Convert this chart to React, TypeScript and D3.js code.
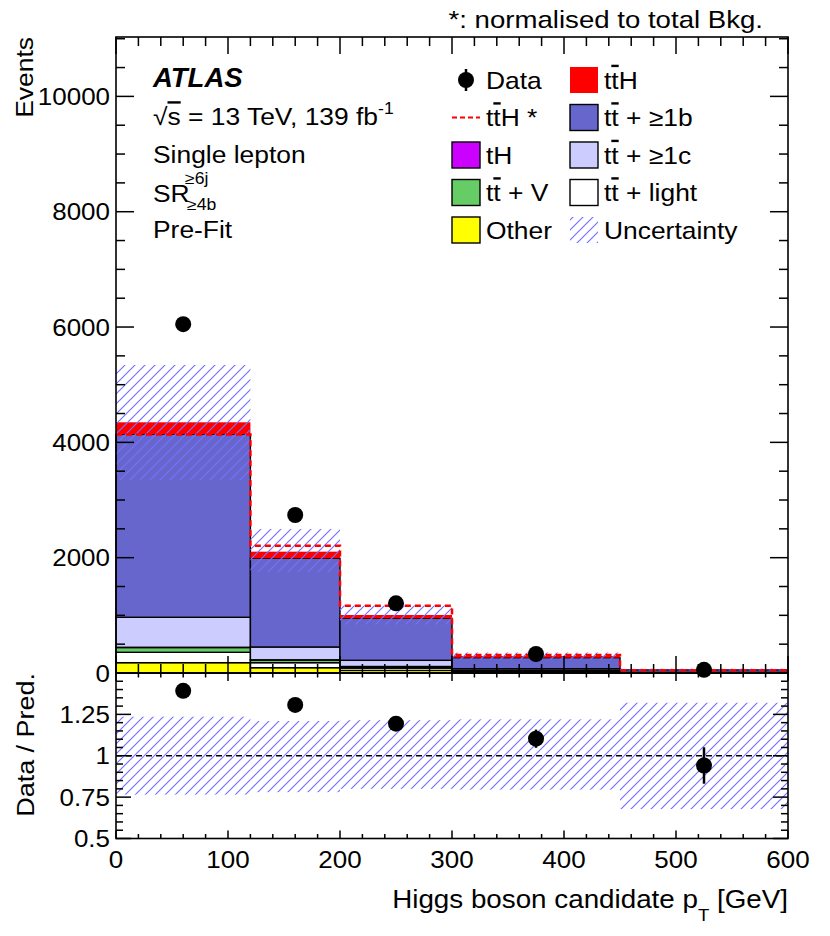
import React from 'react';
import * as d3 from 'd3';

// ---------- data ----------
const binEdges = [0, 120, 200, 300, 450, 600];
const dataVals = [6050, 2740, 1209, 330, 55];
const dataErr = [78, 52, 35, 18, 7];
const otherVals = [179, 92, 45, 15, 3];
const ttLightVals = [180, 87, 40, 15, 2];
const ttVVals = [83, 46, 25, 12, 2];
const tHVals = [4, 4, 3, 2, 0.5];
const ttCVals = [520, 222, 107, 30, 4];
const ttBVals = [3174, 1538, 728, 192, 41.5];
const ttHVals = [208, 115, 58, 29, 5];
const ttHNormVals = [4135, 2208, 1167, 312, 48];
const uncHigh = [5342, 2497, 1170, 355, 75];
const uncLow = [3347, 1746, 840, 235, 42];
const ratioVals = [1.392, 1.307, 1.194, 1.103, 0.941];
const ratioErr = [0.018, 0.025, 0.035, 0.055, 0.11];
const ratioUncHigh = [1.236, 1.21, 1.215, 1.22, 1.32];
const ratioUncLow = [0.765, 0.78, 0.8, 0.795, 0.678];
const yTickLabels = [0, 2000, 4000, 6000, 8000, 10000];
const xTickLabels = [0, 100, 200, 300, 400, 500, 600];
const ratioTickLabels = ['0.5', '0.75', '1', '1.25'];

const stackKeys = ['other', 'ttlight', 'ttV', 'tH', 'ttc', 'ttb', 'ttH'];
const seriesArrays: Record<string, number[]> = {
  other: otherVals, ttlight: ttLightVals, ttV: ttVVals, tH: tHVals,
  ttc: ttCVals, ttb: ttBVals, ttH: ttHVals,
};
const colors: Record<string, string> = {
  other: '#ffff00', ttlight: '#ffffff', ttV: '#66cc66', tH: '#cc00ff',
  ttc: '#ccccff', ttb: '#6666cc', ttH: '#ff0000',
};

const FONT = "'Liberation Sans', Arial, Helvetica, sans-serif";
const L = 116, R = 788, TOP = 37, MB = 673, RB = 838.5;

function Txt(p: any) {
  const { x, y, size = 24, sx = 1.1, anchor = 'start', rot = 0, weight, italic, children } = p;
  return (
    <text
      transform={`translate(${x},${y})${rot ? ` rotate(${rot})` : ''} scale(${sx},1)`}
      fontSize={size}
      textAnchor={anchor}
      fontFamily={FONT}
      fontWeight={weight}
      fontStyle={italic ? 'italic' : undefined}
      fill="#000"
    >
      {children}
    </text>
  );
}

const Bar = ({ c }: { c: string }) => <tspan textDecoration="overline">{c}</tspan>;

export default function App() {
  const x = d3.scaleLinear().domain([0, 600]).range([L, R]);
  const y = d3.scaleLinear().domain([0, 11030]).range([MB, TOP]);
  const yr = d3.scaleLinear().domain([0.5, 1.5]).range([RB, MB]);

  const nb = binEdges.length - 1;
  const rows = d3.range(nb).map((i) => {
    const r: any = {};
    stackKeys.forEach((k) => (r[k] = seriesArrays[k][i]));
    return r;
  });
  const stacked = d3.stack().keys(stackKeys)(rows);

  const stepPath = (vals: number[], sc: any) => {
    let d = '';
    vals.forEach((v, i) => {
      const x0 = x(binEdges[i]), x1 = x(binEdges[i + 1]), yy = sc(v);
      d += i === 0 ? `M${x0},${yy}H${x1}` : `V${yy}H${x1}`;
    });
    return d;
  };

  const mid = (i: number) => (binEdges[i] + binEdges[i + 1]) / 2;

  // ticks
  const xMajor = d3.range(0, 601, 100);
  const xMinor = d3.range(0, 601, 20).filter((v) => v % 100 !== 0);
  const yMajor = d3.range(0, 11001, 2000);
  const yMinor = d3.range(0, 11030, 500).filter((v) => v % 2000 !== 0);
  const rMajor = [0.5, 0.75, 1, 1.25, 1.5];
  const rMinor = d3.range(0, 21).map((i) => 0.5 + i * 0.05).filter((v) => Math.abs((v - 0.5) / 0.25 - Math.round((v - 0.5) / 0.25)) > 1e-6);

  const tk = { stroke: '#000', strokeWidth: 1.5 };

  const legendRows = [80, 117.5, 155, 192.5, 230];
  const c1Box = 452, c1Text = 486, c2Box = 570, c2Text = 604, bw = 28, bh = 26;
  const lsize = 24;

  return (
    <div style={{ position: 'absolute', left: 0, top: 0 }}>
      <svg width={830} height={936} style={{ display: 'block', background: '#fff' }}>
        <defs>
          <pattern id="hatch" patternUnits="userSpaceOnUse" width="10" height="10">
            <path d="M-2,2 L2,-2 M0,10 L10,0 M8,12 L12,8" stroke="#7272ff" strokeWidth="1.2" />
          </pattern>
        </defs>

        {/* stacked histogram */}
        {stacked.map((s: any) =>
          s.map((d: any, i: number) => {
            const k = s.key;
            const h = y(d[0]) - y(d[1]);
            return (
              <rect
                key={k + i}
                x={x(binEdges[i])}
                y={y(d[1])}
                width={x(binEdges[i + 1]) - x(binEdges[i])}
                height={Math.max(h, 0)}
                fill={colors[k]}
                stroke={k === 'ttH' ? 'none' : '#000'}
                strokeWidth={1.4}
              />
            );
          })
        )}

        {/* uncertainty band main */}
        {d3.range(nb).map((i) => (
          <rect key={'u' + i} x={x(binEdges[i])} y={y(uncHigh[i])}
            width={x(binEdges[i + 1]) - x(binEdges[i])} height={y(uncLow[i]) - y(uncHigh[i])}
            fill="url(#hatch)" />
        ))}

        {/* ttH normalised */}
        <path d={stepPath(ttHNormVals, y)} fill="none" stroke="#ff0000" strokeWidth={2.5} strokeDasharray="6,4" />

        {/* data main */}
        {dataVals.map((v, i) => (
          <g key={'d' + i}>
            <line x1={x(mid(i))} x2={x(mid(i))} y1={y(v - dataErr[i])} y2={y(v + dataErr[i])} stroke="#000" strokeWidth={2.5} />
            <circle cx={x(mid(i))} cy={y(v)} r={8} fill="#000" />
          </g>
        ))}

        {/* ratio band */}
        {d3.range(nb).map((i) => (
          <rect key={'ru' + i} x={x(binEdges[i])} y={yr(ratioUncHigh[i])}
            width={x(binEdges[i + 1]) - x(binEdges[i])} height={yr(ratioUncLow[i]) - yr(ratioUncHigh[i])}
            fill="url(#hatch)" />
        ))}
        <line x1={L} x2={R} y1={yr(1)} y2={yr(1)} stroke="#000" strokeWidth={1.3} strokeDasharray="6,4" />
        {ratioVals.map((v, i) => (
          <g key={'r' + i}>
            <line x1={x(mid(i))} x2={x(mid(i))} y1={yr(v - ratioErr[i])} y2={yr(v + ratioErr[i])} stroke="#000" strokeWidth={2.5} />
            <circle cx={x(mid(i))} cy={yr(v)} r={8} fill="#000" />
          </g>
        ))}

        {/* frames */}
        <rect x={L} y={TOP} width={R - L} height={MB - TOP} fill="none" stroke="#000" strokeWidth={1.6} />
        <rect x={L} y={MB} width={R - L} height={RB - MB} fill="none" stroke="#000" strokeWidth={1.6} />

        {/* main ticks */}
        {xMajor.map((v) => (
          <g key={'xm' + v}>
            <line x1={x(v)} x2={x(v)} y1={MB} y2={MB - 17} {...tk} />
            <line x1={x(v)} x2={x(v)} y1={TOP} y2={TOP + 17} {...tk} />
            <line x1={x(v)} x2={x(v)} y1={MB} y2={MB + 8} {...tk} />
            <line x1={x(v)} x2={x(v)} y1={RB} y2={RB - 8} {...tk} />
          </g>
        ))}
        {xMinor.map((v) => (
          <g key={'xn' + v}>
            <line x1={x(v)} x2={x(v)} y1={MB} y2={MB - 9} {...tk} />
            <line x1={x(v)} x2={x(v)} y1={TOP} y2={TOP + 9} {...tk} />
            <line x1={x(v)} x2={x(v)} y1={MB} y2={MB + 4.5} {...tk} />
            <line x1={x(v)} x2={x(v)} y1={RB} y2={RB - 4.5} {...tk} />
          </g>
        ))}
        {yMajor.map((v) => (
          <g key={'ym' + v}>
            <line x1={L} x2={L + 18} y1={y(v)} y2={y(v)} {...tk} />
            <line x1={R} x2={R - 18} y1={y(v)} y2={y(v)} {...tk} />
          </g>
        ))}
        {yMinor.map((v) => (
          <g key={'yn' + v}>
            <line x1={L} x2={L + 9} y1={y(v)} y2={y(v)} {...tk} />
            <line x1={R} x2={R - 9} y1={y(v)} y2={y(v)} {...tk} />
          </g>
        ))}
        {rMajor.map((v) => (
          <g key={'rm' + v}>
            <line x1={L} x2={L + 15} y1={yr(v)} y2={yr(v)} {...tk} />
            <line x1={R} x2={R - 15} y1={yr(v)} y2={yr(v)} {...tk} />
          </g>
        ))}
        {rMinor.map((v) => (
          <g key={'rn' + v}>
            <line x1={L} x2={L + 7} y1={yr(v)} y2={yr(v)} {...tk} />
            <line x1={R} x2={R - 7} y1={yr(v)} y2={yr(v)} {...tk} />
          </g>
        ))}

        {/* tick labels */}
        {yTickLabels.map((v) => (
          <Txt key={'yl' + v} x={110} y={y(v) + 8.7} size={24.5} sx={1.06} anchor="end">{String(v)}</Txt>
        ))}
        {ratioTickLabels.map((s) => (
          <Txt key={'rl' + s} x={110} y={yr(+s) + 8.7} size={24.5} sx={1.06} anchor="end">{s}</Txt>
        ))}
        {xTickLabels.map((v) => (
          <Txt key={'xl' + v} x={x(v)} y={868} size={24.5} sx={1.06} anchor="middle">{String(v)}</Txt>
        ))}

        {/* axis titles */}
        <Txt x={33} y={TOP} rot={-90} size={24.5} sx={1.08} anchor="end">Events</Txt>
        <Txt x={34} y={MB} rot={-90} size={24.5} sx={1.1} anchor="end">Data / Pred.</Txt>
        <Txt x={R} y={908} size={25.5} sx={1.09} anchor="end">
          Higgs boson candidate p<tspan fontSize={17} dy={13}>T</tspan>
          <tspan dy={-13}> [GeV]</tspan>
        </Txt>
        <Txt x={763} y={28} size={24} sx={1.15} anchor="end">*: normalised to total Bkg.</Txt>

        {/* labels */}
        <Txt x={153} y={87} size={27.5} sx={1.0} weight="bold" italic>ATLAS</Txt>
        <Txt x={153} y={125} size={24} sx={1.1}>
          √<tspan textDecoration="overline">s</tspan> = 13 TeV, 139 fb<tspan fontSize={16} dy={-11}>-1</tspan>
        </Txt>
        <Txt x={153} y={163} size={24} sx={1.1}>Single lepton</Txt>
        <Txt x={153} y={202} size={24} sx={1.1}>SR</Txt>
        <Txt x={185} y={184} size={16} sx={1.1}>≥6j</Txt>
        <Txt x={187} y={210} size={16} sx={1.1}>≥4b</Txt>
        <Txt x={153} y={238} size={24} sx={1.1}>Pre-Fit</Txt>

        {/* legend column 1 */}
        <line x1={c1Box + 14} x2={c1Box + 14} y1={legendRows[0] - 11} y2={legendRows[0] + 11} stroke="#000" strokeWidth={2.5} />
        <circle cx={c1Box + 14} cy={legendRows[0]} r={8} fill="#000" />
        <Txt x={c1Text} y={legendRows[0] + 8.5} size={lsize}>Data</Txt>

        <line x1={c1Box} x2={c1Box + bw} y1={legendRows[1]} y2={legendRows[1]} stroke="#ff0000" strokeWidth={2} strokeDasharray="5,3" />
        <Txt x={c1Text} y={legendRows[1] + 8.5} size={lsize}>t<Bar c="t" />H *</Txt>

        <rect x={c1Box} y={legendRows[2] - bh / 2} width={bw} height={bh} fill={colors.tH} stroke="#000" strokeWidth={1.4} />
        <Txt x={c1Text} y={legendRows[2] + 8.5} size={lsize}>tH</Txt>

        <rect x={c1Box} y={legendRows[3] - bh / 2} width={bw} height={bh} fill={colors.ttV} stroke="#000" strokeWidth={1.4} />
        <Txt x={c1Text} y={legendRows[3] + 8.5} size={lsize}>t<Bar c="t" /> + V</Txt>

        <rect x={c1Box} y={legendRows[4] - bh / 2} width={bw} height={bh} fill={colors.other} stroke="#000" strokeWidth={1.4} />
        <Txt x={c1Text} y={legendRows[4] + 8.5} size={lsize}>Other</Txt>

        {/* legend column 2 */}
        <rect x={c2Box} y={legendRows[0] - bh / 2} width={bw} height={bh} fill={colors.ttH} />
        <Txt x={c2Text} y={legendRows[0] + 8.5} size={lsize}>t<Bar c="t" />H</Txt>

        <rect x={c2Box} y={legendRows[1] - bh / 2} width={bw} height={bh} fill={colors.ttb} stroke="#000" strokeWidth={1.4} />
        <Txt x={c2Text} y={legendRows[1] + 8.5} size={lsize}>t<Bar c="t" /> + ≥1b</Txt>

        <rect x={c2Box} y={legendRows[2] - bh / 2} width={bw} height={bh} fill={colors.ttc} stroke="#000" strokeWidth={1.4} />
        <Txt x={c2Text} y={legendRows[2] + 8.5} size={lsize}>t<Bar c="t" /> + ≥1c</Txt>

        <rect x={c2Box} y={legendRows[3] - bh / 2} width={bw} height={bh} fill={colors.ttlight} stroke="#000" strokeWidth={1.4} />
        <Txt x={c2Text} y={legendRows[3] + 8.5} size={lsize}>t<Bar c="t" /> + light</Txt>

        <rect x={c2Box} y={legendRows[4] - bh / 2} width={bw} height={bh} fill="url(#hatch)" />
        <Txt x={c2Text} y={legendRows[4] + 8.5} size={lsize}>Uncertainty</Txt>
      </svg>
    </div>
  );
}
